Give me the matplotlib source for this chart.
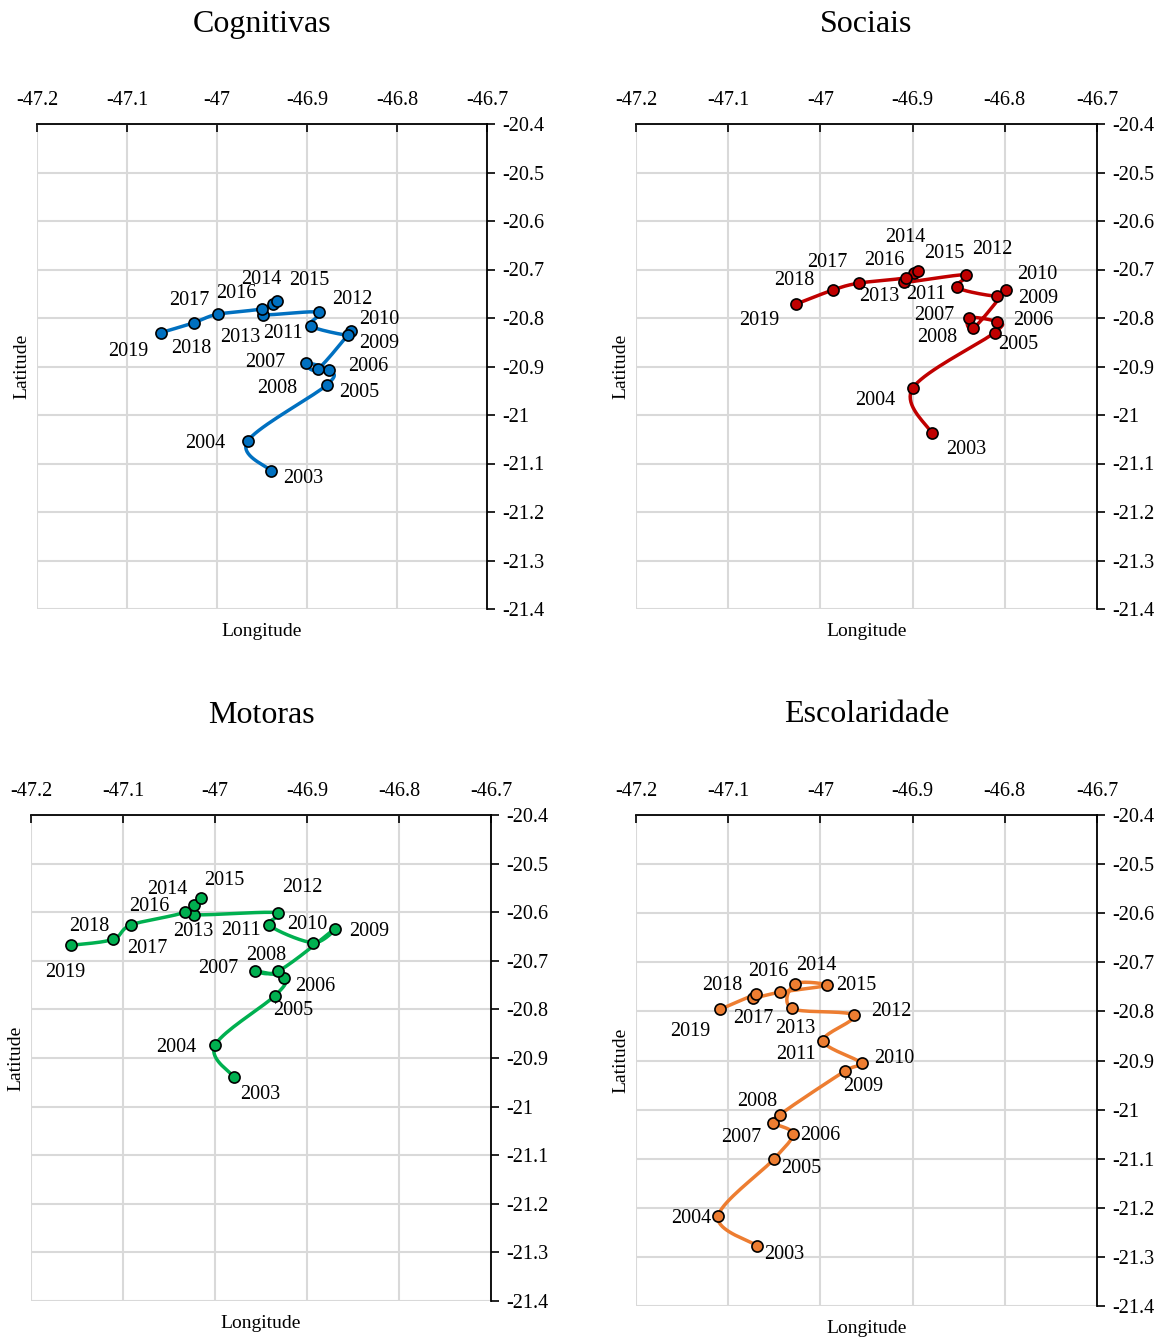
import matplotlib
matplotlib.use("Agg")
import matplotlib.pyplot as plt
import numpy as np

plt.rcParams['font.family'] = ['Liberation Serif', 'DejaVu Serif']

years = list(range(2003, 2020))

# Cognitivas
lon_cog = [-46.940, -46.966, -46.878, -46.876, -46.901, -46.888, -46.851, -46.854, -46.896,
           -46.887, -46.949, -46.938, -46.933, -46.950, -46.999, -47.026, -47.062]
lat_cog = [-21.115, -21.054, -20.938, -20.907, -20.892, -20.905, -20.827, -20.836, -20.816,
           -20.788, -20.793, -20.772, -20.764, -20.781, -20.792, -20.810, -20.830]

# Sociais
lon_soc = [-46.879, -46.900, -46.811, -46.809, -46.839, -46.834, -46.799, -46.809, -46.852,
           -46.842, -46.909, -46.899, -46.894, -46.907, -46.958, -46.986, -47.026]
lat_soc = [-21.038, -20.945, -20.830, -20.808, -20.799, -20.821, -20.742, -20.755, -20.737,
           -20.711, -20.726, -20.707, -20.704, -20.717, -20.728, -20.742, -20.771]

# Motoras
lon_mot = [-46.979, -47.000, -46.935, -46.925, -46.957, -46.931, -46.870, -46.893, -46.941,
           -46.932, -47.023, -47.023, -47.015, -47.033, -47.091, -47.111, -47.156]
lat_mot = [-20.940, -20.874, -20.772, -20.736, -20.720, -20.721, -20.634, -20.663, -20.627,
           -20.601, -20.605, -20.586, -20.570, -20.600, -20.626, -20.656, -20.668]

# Escolaridade
lon_esc = [-47.069, -47.111, -47.050, -47.030, -47.051, -47.044, -46.973, -46.955, -46.997,
           -46.964, -47.031, -47.028, -46.993, -47.044, -47.073, -47.070, -47.109]
lat_esc = [-21.277, -21.217, -21.100, -21.049, -21.027, -21.010, -20.921, -20.906, -20.860,
           -20.808, -20.794, -20.744, -20.747, -20.761, -20.773, -20.765, -20.796]

# label offsets (pixels, dx right, dy down)
off_cog = [(32, 8), (-42, 2), (32, 8), (40, -3), (-41, 0), (-41, 20), (28, 12), (31, -16), (-28, 8),
           (34, -13), (-23, 23), (-11, -25), (32, -20), (-26, -15), (-29, -14), (-2, 26), (-33, 19)]
off_soc = [(34, 16), (-37, 12), (24, 12), (37, -1), (-35, -2), (-36, 9), (32, 9), (41, -22), (-31, 7),
           (26, -25), (-25, 14), (-8, -35), (26, -18), (-22, -17), (-32, -21), (-39, -9), (-37, 17)]
off_mot = [(26, 17), (-39, 2), (18, 15), (31, 8), (-36, -2), (-12, -16), (35, 3), (-6, -18), (-28, 5),
           (25, -25), (-1, 17), (-27, -16), (23, -17), (-35, -6), (16, 24), (-24, -13), (-6, 27)]
off_esc = [(27, 9), (-27, 2), (27, 10), (28, 2), (-32, 15), (-23, -13), (18, 16), (32, -5), (-27, 14),
           (38, -4), (3, 20), (22, -18), (29, 0), (-12, -21), (0, 20), (-34, -9), (-30, 22)]


def smooth(xs, ys, sx, sy, n=20):
    # bezier smoothing like spreadsheet "smoothed line", computed in pixel-ish units
    p = np.column_stack([np.array(xs) * sx, np.array(ys) * sy])
    pts = []
    m = len(p)
    for i in range(m - 1):
        p0 = p[i - 1] if i > 0 else p[i]
        p1 = p[i]
        p2 = p[i + 1]
        p3 = p[i + 2] if i + 2 < m else p[i + 1]
        c1 = p1 + (p2 - p0) / 6.0
        c2 = p2 - (p3 - p1) / 6.0
        t = np.linspace(0, 1, n)[:, None]
        seg = (1 - t) ** 3 * p1 + 3 * (1 - t) ** 2 * t * c1 + 3 * (1 - t) * t ** 2 * c2 + t ** 3 * p2
        pts.append(seg if i == 0 else seg[1:])
    pts = np.vstack(pts)
    return pts[:, 0] / sx, pts[:, 1] / sy


fig = plt.figure(figsize=(11.65, 13.37), dpi=100)

panels = [
    ("Cognitivas", lon_cog, lat_cog, off_cog, "#0070C0", [37 / 1165, 728 / 1337, 450 / 1165, 485 / 1337]),
    ("Sociais", lon_soc, lat_soc, off_soc, "#C00000", [636 / 1165, 728 / 1337, 461 / 1165, 485 / 1337]),
    ("Motoras", lon_mot, lat_mot, off_mot, "#00B050", [31 / 1165, 36 / 1337, 460 / 1165, 486 / 1337]),
    ("Escolaridade", lon_esc, lat_esc, off_esc, "#ED7D31", [636 / 1165, 31 / 1337, 461 / 1165, 491 / 1337]),
]

for title, lon, lat, offs, color, rect in panels:
    ax = fig.add_axes(rect)
    ax.set_xlim(-47.2, -46.7)
    ax.set_ylim(-21.4, -20.4)
    ax.set_xticks(np.round(np.arange(-47.2, -46.65, 0.1), 1))
    ax.set_yticks(np.round(np.arange(-21.4, -20.35, 0.1), 1))
    ax.set_xticklabels(["-47.2", "-47.1", "-47", "-46.9", "-46.8", "-46.7"])
    ax.set_yticklabels(["-21.4", "-21.3", "-21.2", "-21.1", "-21", "-20.9", "-20.8", "-20.7",
                        "-20.6", "-20.5", "-20.4"])
    ax.xaxis.tick_top()
    ax.yaxis.tick_right()
    ax.tick_params(axis='x', direction='in', length=6, width=1.2, pad=10, labelsize=14.5, colors='black')
    ax.tick_params(axis='y', direction='out', length=6, width=1.2, pad=5, labelsize=14.5)
    for s in ['left', 'bottom']:
        ax.spines[s].set_visible(False)
    for s in ['top', 'right']:
        ax.spines[s].set_linewidth(1.3)
    ax.grid(True, color='#d9d9d9', linewidth=1.5)
    ax.set_axisbelow(True)

    bb = ax.get_position()
    sx = bb.width * 1165 / 0.5
    sy = bb.height * 1337 / 1.0
    cx, cy = smooth(lon, lat, sx, sy)
    ax.plot(cx, cy, color=color, linewidth=2.5, zorder=3, clip_on=False)
    ax.plot(lon, lat, 'o', color=color, markersize=8, markeredgecolor='black',
            markeredgewidth=1.2, zorder=4, clip_on=False)
    for yr, x, y, (dx, dy) in zip(years, lon, lat, offs):
        ax.annotate(str(yr), (x, y), xytext=(dx, -dy), textcoords='offset pixels',
                    ha='center', va='center', fontsize=14.5, zorder=5)

    ax.text(0.5, 1.205, title, transform=ax.transAxes, ha='center', va='center', fontsize=23)
    ax.set_xlabel("Longitude", fontsize=14)
    ax.set_ylabel("Latitude", fontsize=14)
    ax.xaxis.set_label_position('bottom')
    ax.yaxis.set_label_position('left')
    ax.xaxis.labelpad = 10
    ax.yaxis.labelpad = 5

fig.savefig("out.png", dpi=100)
